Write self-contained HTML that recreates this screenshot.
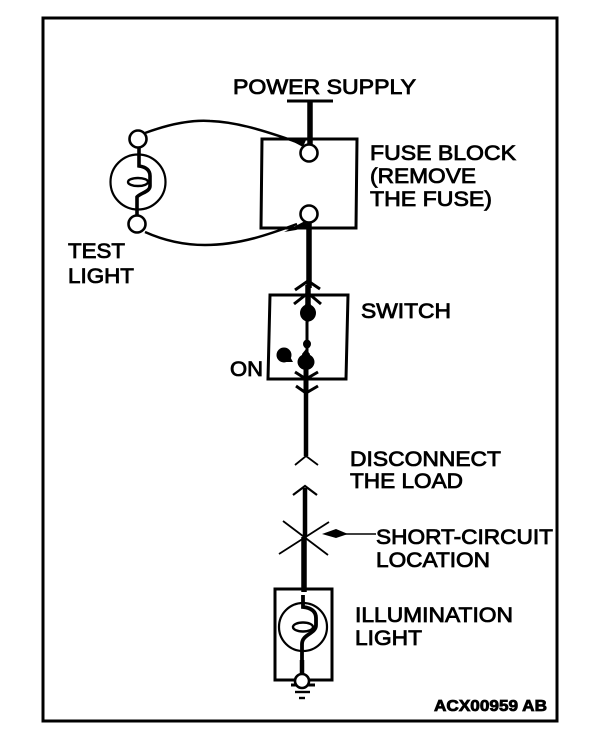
<!DOCTYPE html>
<html><head><meta charset="utf-8"><style>
html,body{margin:0;padding:0;background:#fff}
svg{display:block}
text{font-family:"Liberation Sans",sans-serif;font-size:21px;fill:#000;stroke:#000;stroke-width:.8px}
</style></head><body>
<svg width="608" height="748" viewBox="0 0 608 748" xmlns="http://www.w3.org/2000/svg">
<g fill="none" stroke="#000" stroke-width="2">
<rect x="43" y="18" width="514" height="703" stroke-width="3"/>
<!-- fuse block -->
<path d="M262 139H357L356 228H261Z" stroke-width="3"/>
<!-- switch -->
<path d="M270 295H348L346 379H268Z" stroke-width="3"/>
<!-- illumination box -->
<path d="M275 589H332V680H275Z" stroke-width="3"/>
<!-- power -->
<path d="M287 101H333" stroke-width="3"/>
<path d="M310 102V146" stroke-width="5.5"/>
<!-- main wires -->
<path d="M309 222V288" stroke-width="5.5"/>
<path d="M308 285V312" stroke-width="5.5"/>
<path d="M307 312V358" stroke-width="3"/>
<path d="M306 362V392" stroke-width="5"/>
<path d="M306 390V456" stroke-width="4.5"/>
<path d="M305 488V537" stroke-width="4.5"/>
<path d="M304 537V592" stroke-width="5.5"/>
<path d="M302 660V676" stroke-width="4.5"/>
<!-- test-light wires -->
<path d="M145 133C175 122 195 120 210 121C240 122 270 133 297 142" stroke-width="2.5"/>
<path d="M145 232C165 241 185 245 205 245C240 245 270 234 297 224" stroke-width="2.5"/>
<!-- arrowheads on switch wire -->
<path d="M295 290L308 281L320 289M294 304L308 293L321 304" stroke-width="3"/>
<path d="M295 372L306 379L318 372M296 386L306 393L318 386" stroke-width="3"/>
<path d="M295 465L306 456L318 465" stroke-width="1.8"/>
<path d="M293 495L305 486L317 495" stroke-width="2.2"/>
<!-- short X -->
<path d="M283 521L328 555M279 554L329 522" stroke-width="1.8"/>
<path d="M335 534H376" stroke-width="1.6"/>
<!-- test lamp -->
<circle cx="138" cy="182" r="27.5" stroke-width="2.2"/>
<path d="M139 148V166C146 167 150 170 150 176V186C150 192 140 193 137 197V216" stroke-width="3.6"/>
<ellipse cx="138" cy="182" rx="10" ry="4" stroke-width="2.4" fill="#fff"/>
<!-- illumination lamp -->
<circle cx="303" cy="627" r="24" stroke-width="2.2"/>
<path d="M303 595V607C312 608 316 612 316 618V625C316 634 302 634 302 644V662" stroke-width="3.8"/>
<ellipse cx="303" cy="627" rx="10" ry="4.5" stroke-width="2.4" fill="#fff"/>
<!-- ground -->
<path d="M291 685H315" stroke-width="3"/>
<path d="M295 692H310" stroke-width="2.4"/>
<path d="M299 698H305" stroke-width="2.4"/>
</g>
<g fill="#fff" stroke="#000" stroke-width="2.6">
<circle cx="309" cy="153" r="8.5"/>
<circle cx="309" cy="214" r="8.5"/>
<circle cx="138" cy="139" r="8.5"/>
<circle cx="137" cy="224" r="8.5"/>
<circle cx="302" cy="681" r="7"/>
</g>
<g fill="#000">
<path d="M286 138L306 140L303 147Z"/>
<path d="M284 232L305 221L308 226L296 230Z"/>
<ellipse cx="308" cy="313" rx="8" ry="8.5"/>
<path d="M308 301L312 306L308 325L304 306Z"/>
<ellipse cx="307" cy="344" rx="4" ry="4.5"/>
<ellipse cx="306" cy="362" rx="8.5" ry="8"/>
<path d="M306 349L310 354L306 374L302 354Z"/>
<circle cx="284" cy="355" r="7.5"/>
<path d="M284 362L293 362L288 353Z"/>
<path d="M322 534L336 529L348 534L336 538Z"/>
</g>
<text x="233" y="94" textLength="183" lengthAdjust="spacingAndGlyphs">POWER SUPPLY</text>
<text x="370" y="160" textLength="146" lengthAdjust="spacingAndGlyphs">FUSE BLOCK</text>
<text x="370" y="183" textLength="106" lengthAdjust="spacingAndGlyphs">(REMOVE</text>
<text x="370" y="206" textLength="122" lengthAdjust="spacingAndGlyphs">THE FUSE)</text>
<text x="68" y="258" textLength="57" lengthAdjust="spacingAndGlyphs">TEST</text>
<text x="68" y="283" textLength="66" lengthAdjust="spacingAndGlyphs">LIGHT</text>
<text x="361" y="318" textLength="90" lengthAdjust="spacingAndGlyphs">SWITCH</text>
<text x="230" y="376" textLength="33" lengthAdjust="spacingAndGlyphs">ON</text>
<text x="350" y="466" textLength="151" lengthAdjust="spacingAndGlyphs">DISCONNECT</text>
<text x="350" y="488" textLength="113" lengthAdjust="spacingAndGlyphs">THE LOAD</text>
<text x="376" y="544" textLength="177" lengthAdjust="spacingAndGlyphs">SHORT-CIRCUIT</text>
<text x="376" y="567" textLength="114" lengthAdjust="spacingAndGlyphs">LOCATION</text>
<text x="355" y="622" textLength="158" lengthAdjust="spacingAndGlyphs">ILLUMINATION</text>
<text x="355" y="645" textLength="67" lengthAdjust="spacingAndGlyphs">LIGHT</text>
<text x="434" y="711" textLength="113" lengthAdjust="spacingAndGlyphs" style="font-size:16px;font-weight:bold">ACX00959 AB</text>
</svg>
</body></html>
